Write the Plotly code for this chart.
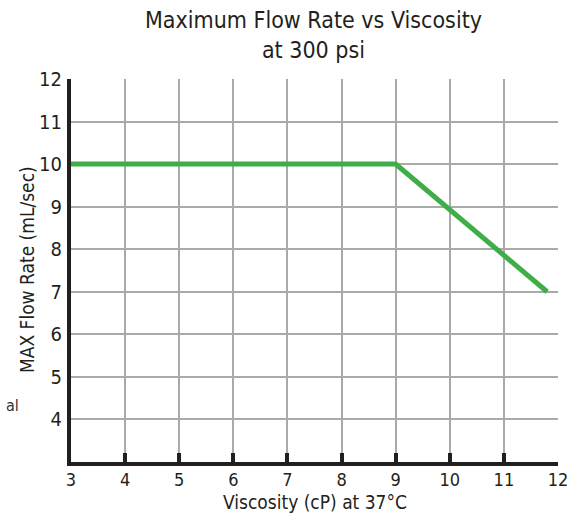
import plotly.graph_objects as go

viscosity = [3, 9, 11.8]
flow_rate = [10, 10, 7]
x_ticks = [3, 4, 5, 6, 7, 8, 9, 10, 11, 12]
y_ticks = [4, 5, 6, 7, 8, 9, 10, 11, 12]
title_text = "Maximum Flow Rate vs Viscosity<br>at 300 psi"

FONT = "DejaVu Sans Condensed, Liberation Sans Narrow, Roboto, sans-serif"
INK = "#231f20"

fig = go.Figure()
fig.add_trace(go.Scatter(x=viscosity, y=flow_rate, mode="lines",
                         line=dict(color="#3fae49", width=5), showlegend=False,
                         hoverinfo="skip"))

L, R, T, B = 71, 558, 79, 462
def py(pix):
    return (B - pix) / (B - T)
def px(pix):
    return (pix - L) / (R - L)

fig.update_layout(
    width=574, height=517,
    margin=dict(l=L, r=574 - R, t=T, b=517 - B, autoexpand=False),
    paper_bgcolor="white", plot_bgcolor="white",
    font=dict(family=FONT, color=INK, size=18),
    xaxis=dict(range=[3, 12], tickvals=x_ticks, ticktext=[str(v) for v in x_ticks],
               showgrid=True, gridcolor="#aaaaaa", gridwidth=1.5,
               showline=True, linecolor=INK, linewidth=4,
               ticks="inside", ticklen=9, tickwidth=4, tickcolor=INK,
               ticklabelstandoff=-2,
               tickfont=dict(size=18), zeroline=False, automargin=False),
    yaxis=dict(range=[3, 12], tickvals=y_ticks, ticktext=[str(v) for v in y_ticks],
               showgrid=True, gridcolor="#aaaaaa", gridwidth=1.5,
               showline=True, linecolor=INK, linewidth=4,
               ticks="", ticklabelstandoff=1,
               tickfont=dict(size=20), zeroline=False, automargin=False),
    annotations=[
        dict(text=title_text, xref="paper", yref="paper",
             x=0.497, y=py(35), xanchor="center", yanchor="middle", showarrow=False,
             font=dict(size=23, family=FONT, color=INK)),
        dict(text="Viscosity (cP) at 37°C", xref="paper", yref="paper",
             x=px(315), y=py(502), xanchor="center", yanchor="middle", showarrow=False,
             font=dict(size=19, family=FONT, color=INK)),
        dict(text="MAX Flow Rate (mL/sec)", xref="paper", yref="paper", textangle=-90,
             x=px(27), y=py(270), xanchor="center", yanchor="middle", showarrow=False,
             font=dict(size=19, family=FONT, color=INK)),
        dict(text="al", xref="paper", yref="paper", x=px(12), y=py(405),
             xanchor="center", yanchor="middle", showarrow=False,
             font=dict(size=16, family=FONT, color="#333333")),
    ],
)

fig.write_html("out.html", config={"displayModeBar": False},
               post_script="document.body.style.margin='0';")
